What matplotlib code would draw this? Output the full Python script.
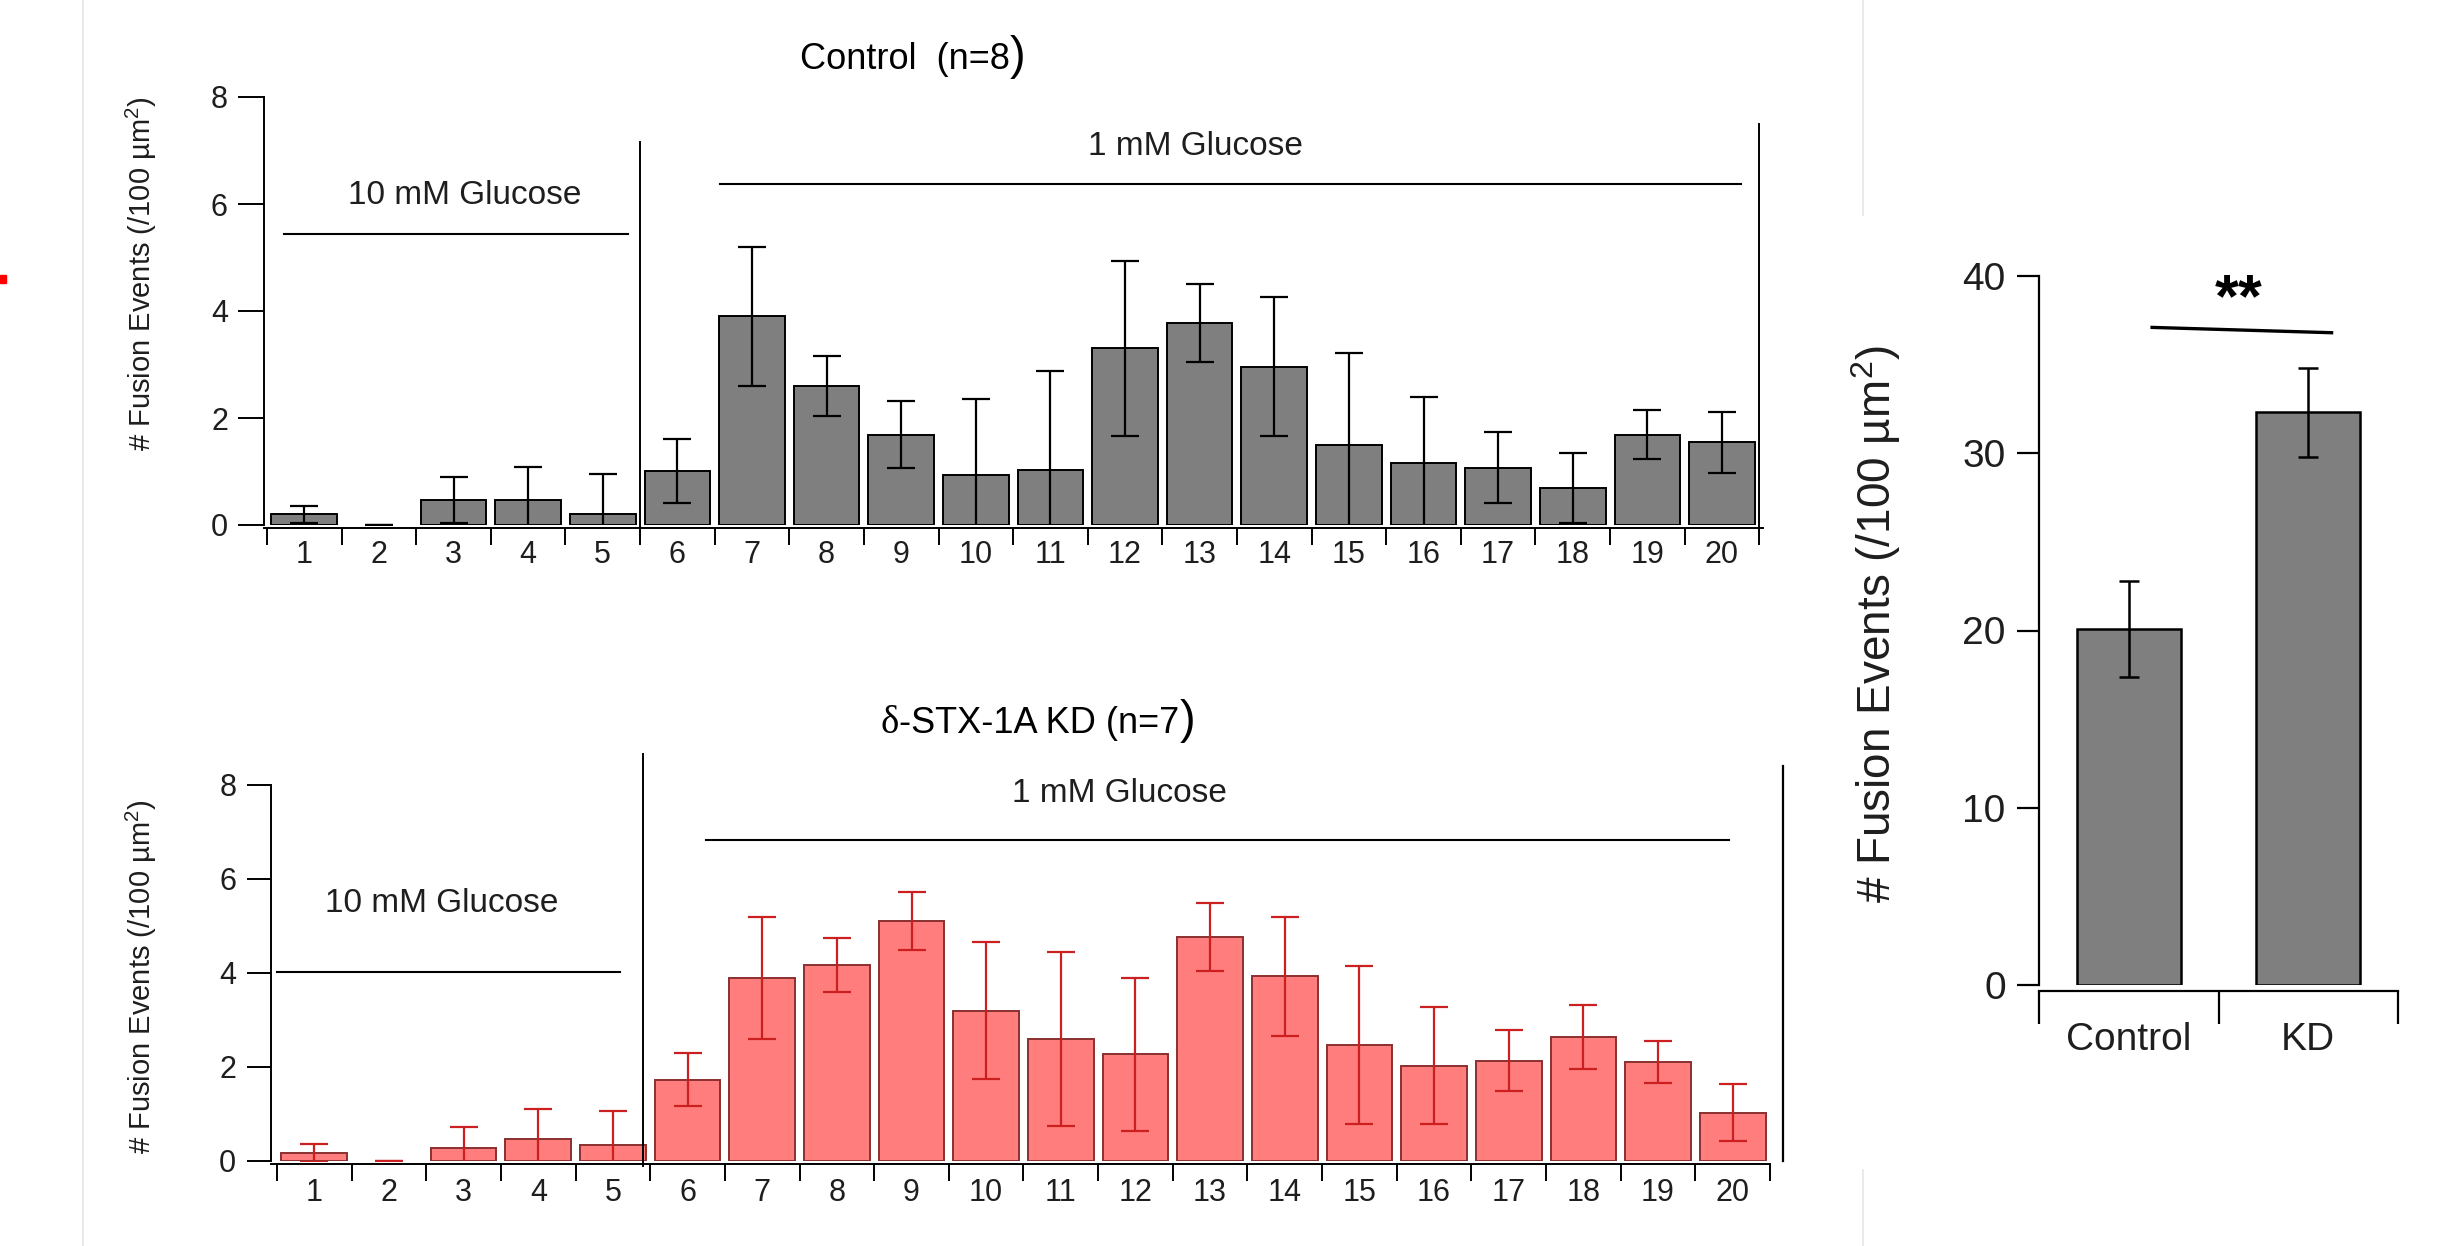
import matplotlib
matplotlib.use('Agg')
import matplotlib.pyplot as plt
from matplotlib.patches import Rectangle
from matplotlib.lines import Line2D

W, H = 2445, 1246
DPI = 100

# values (mean +/- error per time bin)
bins = list(range(1, 21))
ctrl_mean = [0.2, 0.0, 0.46, 0.46, 0.2, 1.01, 3.9, 2.59, 1.69, 0.94,
             1.02, 3.3, 3.78, 2.96, 1.49, 1.16, 1.07, 0.69, 1.69, 1.55]
ctrl_err = [0.16, 0.0, 0.43, 0.63, 0.75, 0.6, 1.3, 0.56, 0.62, 1.42,
            1.86, 1.63, 0.73, 1.3, 1.73, 1.23, 0.66, 0.66, 0.46, 0.57]
kd_mean = [0.17, 0.0, 0.27, 0.47, 0.33, 1.73, 3.9, 4.17, 5.1, 3.2,
           2.6, 2.27, 4.77, 3.93, 2.47, 2.03, 2.13, 2.63, 2.1, 1.03]
kd_err = [0.2, 0.0, 0.46, 0.63, 0.74, 0.56, 1.3, 0.57, 0.62, 1.45,
          1.85, 1.63, 0.72, 1.26, 1.68, 1.25, 0.65, 0.68, 0.45, 0.6]

groups = ['Control', 'KD']
total_mean = [20.1, 32.3]
total_err = [2.7, 2.5]

plt.rcParams['font.family'] = ['Liberation Sans', 'DejaVu Sans']
plt.rcParams['mathtext.fontset'] = 'custom'
plt.rcParams['mathtext.rm'] = 'Liberation Sans'
plt.rcParams['mathtext.it'] = 'Liberation Sans:italic'
plt.rcParams['mathtext.bf'] = 'Liberation Sans:bold'

YLABEL = r'# Fusion Events (/100 µm$^{2}$)'
TXT = '#1e1e1e'

fig = plt.figure(figsize=(W / DPI, H / DPI), dpi=DPI)


def px_axes(left, top, right, bottom):
    # axes box given in pixels, origin top-left
    return fig.add_axes([left / W, 1 - bottom / H, (right - left) / W, (bottom - top) / H])


def chain_text(x, y, pieces):
    # put text pieces one after another on a common baseline (pixels)
    renderer = fig.canvas.get_renderer()
    cur = x
    for s, kw in pieces:
        t = fig.text(cur / W, 1 - y / H, s, ha='left', va='baseline', **kw)
        cur += t.get_window_extent(renderer).width


def time_panel(ax, mean, err, face, edge, ecolor, xlim, ytick_len, ypad, xpad):
    lw = [1.4 if m > 0 else 0 for m in mean]
    ax.bar(bins, mean, width=0.88, color=face, edgecolor=edge, linewidth=lw, zorder=2)
    ax.errorbar(bins, mean, yerr=err, fmt='none', ecolor=ecolor, elinewidth=1.6,
                capsize=10, capthick=1.6, zorder=3)
    ax.set_xlim(*xlim)
    ax.set_ylim(0, 8)
    ax.spines[['top', 'right']].set_visible(False)
    ax.spines['bottom'].set_position(('outward', 2))
    for s in ['left', 'bottom']:
        ax.spines[s].set_linewidth(1.4)
    ax.set_yticks([0, 2, 4, 6, 8])
    ax.set_xticks([b + 0.5 for b in [0] + bins])
    ax.set_xticks(bins, minor=True)
    ax.set_xticklabels([str(b) for b in bins], minor=True)
    ax.tick_params(axis='x', which='major', length=12, width=1.4, labelbottom=False)
    ax.tick_params(axis='x', which='minor', length=0, pad=xpad, labelsize=22, colors=TXT)
    ax.tick_params(axis='y', length=ytick_len, width=1.4, pad=ypad, labelsize=22,
                   labelcolor=TXT)


# Control panel
ax1 = px_axes(264, 97, 1763, 525)
time_panel(ax1, ctrl_mean, ctrl_err, '#7f7f7f', 'black', 'black',
           (0.46, 20.55), 19, 7, 9)
ax1.plot([5.5, 5.5], [-0.15, 7.16], color='black', lw=1.4, clip_on=False)
ax1.plot([20.5, 20.5], [-0.15, 7.5], color='black', lw=1.4, clip_on=False)
ax1.plot([0.73, 5.34], [5.44, 5.44], color='black', lw=1.5, clip_on=False)
ax1.plot([6.57, 20.26], [6.37, 6.37], color='black', lw=1.5, clip_on=False)
ax1.text(3.15, 6.15, '10 mM Glucose', ha='center', va='center', fontsize=24, color=TXT)
ax1.text(12.95, 7.07, '1 mM Glucose', ha='center', va='center', fontsize=24, color=TXT)

# KD panel
ax2 = px_axes(271, 785, 1770, 1161)
time_panel(ax2, kd_mean, kd_err, '#ff7d7d', '#8a3030', '#cc1f1f',
           (0.42, 20.5), 17, 8, 10)
ax2.plot([5.4, 5.4], [-0.1, 8.65], color='black', lw=1.4, clip_on=False)
ax2.plot([20.67, 20.67], [0, 8.4], color='black', lw=1.6, clip_on=False)
ax2.plot([0.5, 5.09], [4.02, 4.02], color='black', lw=1.5, clip_on=False)
ax2.plot([6.25, 19.95], [6.83, 6.83], color='black', lw=1.5, clip_on=False)
ax2.text(2.7, 5.47, '10 mM Glucose', ha='center', va='center', fontsize=24, color=TXT)
ax2.text(11.78, 7.82, '1 mM Glucose', ha='center', va='center', fontsize=24, color=TXT)

fig.text(141 / W, 1 - 274 / H, YLABEL, rotation=90, ha='center', va='center',
         fontsize=21, color=TXT)
fig.text(141 / W, 1 - 977 / H, YLABEL, rotation=90, ha='center', va='center',
         fontsize=21, color=TXT)

chain_text(800, 69, [('Control  (n=8', dict(fontsize=26)),
                     (')', dict(fontsize=34))])
chain_text(881, 733, [('δ', dict(fontsize=28, family=['Liberation Serif', 'DejaVu Serif'])),
                      ('-STX-1A KD (n=7', dict(fontsize=26)),
                      (')', dict(fontsize=34))])

# totals panel
ax3 = px_axes(2039, 276, 2398, 985)
xpos = [0.5, 1.5]
ax3.bar(xpos, total_mean, width=0.58, color='#7f7f7f', edgecolor='black', linewidth=1.8, zorder=2)
ax3.errorbar(xpos, total_mean, yerr=total_err, fmt='none', ecolor='black', elinewidth=1.8,
             capsize=7.5, capthick=1.8, zorder=3)
ax3.set_xlim(0, 2)
ax3.set_ylim(0, 40)
ax3.spines[['top', 'right']].set_visible(False)
ax3.spines['bottom'].set_position(('outward', 4))
for s in ['left', 'bottom']:
    ax3.spines[s].set_linewidth(1.6)
ax3.set_yticks([0, 10, 20, 30, 40])
ax3.set_xticks([0, 1, 2])
ax3.set_xticks(xpos, minor=True)
ax3.set_xticklabels(groups, minor=True)
ax3.tick_params(axis='x', which='major', length=24, width=1.6, labelbottom=False)
ax3.tick_params(axis='x', which='minor', length=0, pad=23, labelsize=28, colors=TXT)
ax3.tick_params(axis='y', length=16, width=1.6, pad=8, labelsize=28, labelcolor=TXT)
ax3.plot([0.63, 1.63], [37.1, 36.8], color='black', lw=2.4, clip_on=False)
ax3.text(1.11, 38.6, '**', ha='center', va='center', fontsize=44, fontweight='bold')
fig.text(1876 / W, 1 - 624 / H, YLABEL, rotation=90, ha='center', va='center',
         fontsize=33, color=TXT)

# faint scan edges and the red mark at the left border
fig.add_artist(Line2D([83 / W, 83 / W], [0, 1], color='#e6e6e6', lw=1.2))
fig.add_artist(Line2D([1863 / W, 1863 / W], [1, 1 - 215 / H], color='#e6e6e6', lw=1.2))
fig.add_artist(Line2D([1863 / W, 1863 / W], [1 - 1170 / H, 0], color='#e6e6e6', lw=1.2))
fig.add_artist(Rectangle((0, 1 - 283 / H), 6 / W, 8 / H, color='red',
                         transform=fig.transFigure))

fig.savefig('out.png', dpi=DPI)
